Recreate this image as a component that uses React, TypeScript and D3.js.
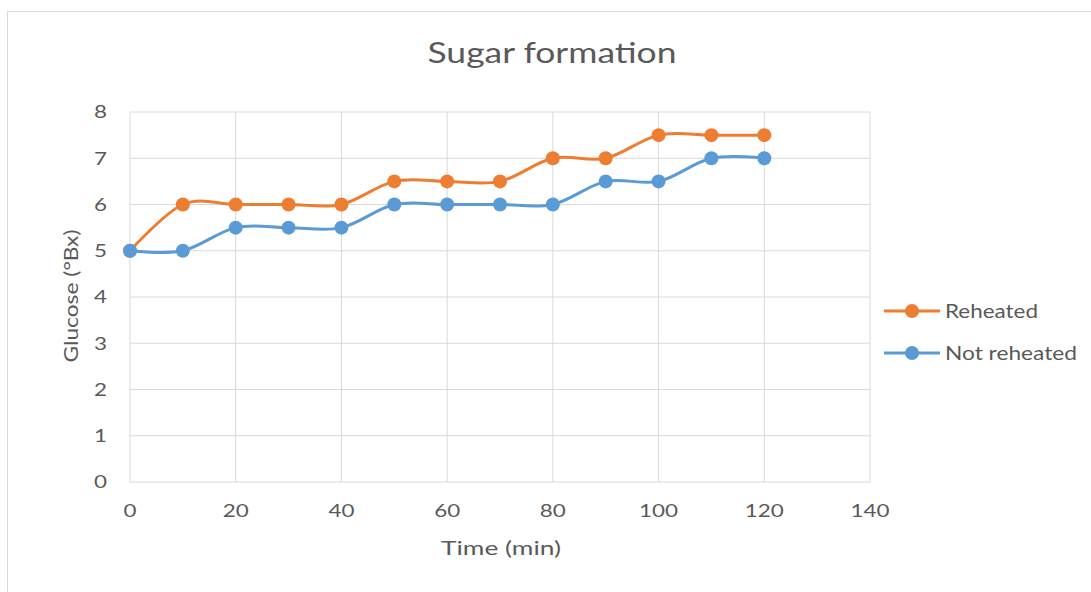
import React from "react";
import * as d3 from "d3";

const times = [0, 10, 20, 30, 40, 50, 60, 70, 80, 90, 100, 110, 120];
const reheated = [5, 6, 6, 6, 6, 6.5, 6.5, 6.5, 7, 7, 7.5, 7.5, 7.5];
const notReheated = [5, 5, 5.5, 5.5, 5.5, 6, 6, 6, 6, 6.5, 6.5, 7, 7];
const xTicks = [0, 20, 40, 60, 80, 100, 120, 140];
const yTicks = [0, 1, 2, 3, 4, 5, 6, 7, 8];
const seriesNames = ["Reheated", "Not reheated"];
const seriesColors = ["#ED7D31", "#5B9BD5"];

const W = 1091;
const H = 592;
const FONT = "Lato, 'Open Sans', sans-serif";
const TXT = "#595959";
const DIGIT_W = 13;

export default function App() {
  const x = d3.scaleLinear().domain([0, 140]).range([130, 870]);
  const y = d3.scaleLinear().domain([0, 8]).range([482, 112]);
  const line = d3
    .line<[number, number]>()
    .x((d) => x(d[0]))
    .y((d) => y(d[1]))
    .curve(d3.curveCardinal.tension(0));
  const series = [reheated, notReheated];
  const legendLens = [93, 132];

  return (
    <svg
      width={W}
      height={H}
      style={{ position: "absolute", left: 0, top: 0, background: "#fff" }}
      fontFamily={FONT}
    >
      <rect x={7.5} y={11.5} width={1200} height={700} fill="#fff" stroke="#D9D9D9" />
      <text x={552} y={63} textAnchor="middle" fontSize={28} fill={TXT} textLength={249} lengthAdjust="spacingAndGlyphs">
        Sugar formation
      </text>
      {yTicks.map((t) => (
        <line key={"gy" + t} x1={x(0)} x2={x(140)} y1={y(t)} y2={y(t)} stroke="#D9D9D9" />
      ))}
      {xTicks.map((t) => (
        <line key={"gx" + t} x1={x(t)} x2={x(t)} y1={y(0)} y2={y(8)} stroke="#D9D9D9" />
      ))}
      {yTicks.map((t) => (
        <text key={"ty" + t} x={107} y={y(t)} dy="0.35em" textAnchor="end" fontSize={18} fill={TXT}
          textLength={DIGIT_W * String(t).length} lengthAdjust="spacingAndGlyphs">
          {t}
        </text>
      ))}
      {xTicks.map((t) => (
        <text key={"tx" + t} x={x(t)} y={511} dy="0.35em" textAnchor="middle" fontSize={18} fill={TXT}
          textLength={DIGIT_W * String(t).length} lengthAdjust="spacingAndGlyphs">
          {t}
        </text>
      ))}
      <text x={501} y={555} textAnchor="middle" fontSize={20} fill={TXT} textLength={120} lengthAdjust="spacingAndGlyphs">
        Time (min)
      </text>
      <text
        transform={`translate(78,${y(4) - 1}) rotate(-90)`}
        textAnchor="middle"
        fontSize={20}
        fill={TXT}
        textLength={133}
        lengthAdjust="spacingAndGlyphs"
      >
        Glucose (°Bx)
      </text>
      {series.map((s, i) => {
        const pts = times.map((t, j) => [t, s[j]] as [number, number]);
        return (
          <g key={"s" + i}>
            <path d={line(pts) || ""} fill="none" stroke={seriesColors[i]} strokeWidth={3} />
            {pts.map((p, j) => (
              <circle key={j} cx={x(p[0])} cy={y(p[1])} r={7} fill={seriesColors[i]} />
            ))}
          </g>
        );
      })}
      {seriesNames.map((n, i) => {
        const ly = 311 + i * 42;
        return (
          <g key={"l" + i}>
            <line x1={884} x2={940} y1={ly} y2={ly} stroke={seriesColors[i]} strokeWidth={3} />
            <circle cx={912} cy={ly} r={7} fill={seriesColors[i]} />
            <text x={945} y={ly} dy="0.35em" fontSize={19} fill={TXT} textLength={legendLens[i]} lengthAdjust="spacingAndGlyphs">
              {n}
            </text>
          </g>
        );
      })}
    </svg>
  );
}
